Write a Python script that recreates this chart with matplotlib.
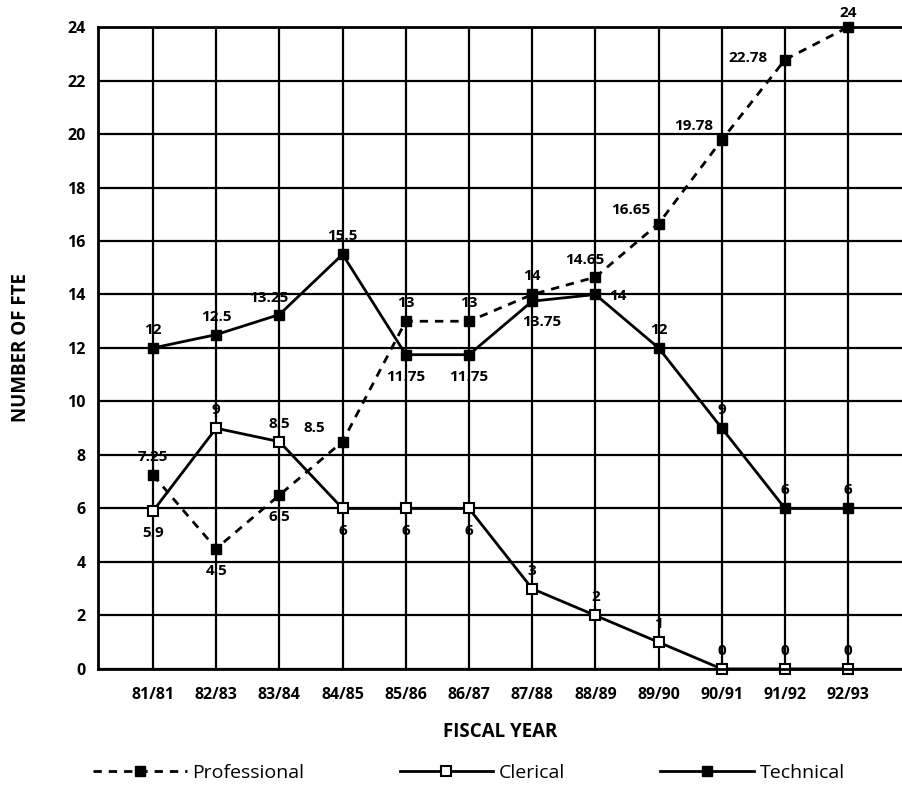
import matplotlib
matplotlib.use("Agg")
import matplotlib.pyplot as plt

years = ["81/81", "82/83", "83/84", "84/85", "85/86", "86/87",
         "87/88", "88/89", "89/90", "90/91", "91/92", "92/93"]
professional = [7.25, 4.5, 6.5, 8.5, 13, 13, 14, 14.65, 16.65, 19.78, 22.78, 24]
clerical = [5.9, 9, 8.5, 6, 6, 6, 3, 2, 1, 0, 0, 0]
technical = [12, 12.5, 13.25, 15.5, 11.75, 11.75, 13.75, 14, 12, 9, 6, 6]

prof_labels = ["7.25", "4.5", "6.5", "8.5", "13", "13", "14", "14.65", "16.65", "19.78", "22.78", "24"]
cler_labels = ["5.9", "9", "8.5", "6", "6", "6", "3", "2", "1", "0", "0", "0"]
tech_labels = ["12", "12.5", "13.25", "15.5", "11.75", "11.75", "13.75", "14", "12", "9", "6", "6"]

yticks = [0, 2, 4, 6, 8, 10, 12, 14, 16, 18, 20, 22, 24]

# label placement (style only)
prof_place = ["up", "down", "down", "upleft", "up", "up", "up", "upleft2", "upleft", "upleft", "left", "uptop"]
cler_place = ["down", "up", "up", "down", "down", "down", "up", "up", "up", "up", "up", "up"]
tech_place = ["up", "up", "upleft2", "up", "down", "down", "downright", "right", "up", "up", "up", "up"]

offsets = {
    "up": (0, 13), "uptop": (0, 10), "down": (0, -16), "upleft": (-20, 10), "upleft2": (-8, 12),
    "left": (-27, 1), "right": (16, -1), "downright": (7, -15),
}

plt.rcParams['font.family'] = ['Open Sans', 'DejaVu Sans']

fig = plt.figure(figsize=(9.02, 7.9), dpi=100)
ax = fig.add_axes([0.1086, 0.1532, 0.8914, 0.8126])

x = list(range(len(years)))
ax.set_xlim(-0.87, 11.85)
ax.set_ylim(0, 24)

ax.set_yticks(yticks)
ax.set_xticks(x)
ax.set_xticklabels(years)
ax.grid(True, color="black", linewidth=1.6)
ax.set_axisbelow(True)
for s in ["left", "bottom", "top"]:
    ax.spines[s].set_linewidth(2)
ax.spines["right"].set_visible(False)
ax.tick_params(length=0)
ax.tick_params(axis="y", pad=9)
ax.tick_params(axis="x", pad=13)
for lab in ax.get_xticklabels() + ax.get_yticklabels():
    lab.set_fontweight("bold")
    lab.set_fontsize(11.5)

lp, = ax.plot(x, professional, color="black", lw=2, linestyle=(0, (3, 2.5)),
              marker="s", markersize=7, markerfacecolor="black", label="Professional", clip_on=False)
lc, = ax.plot(x, clerical, color="black", lw=2, marker="s", markersize=7,
              markerfacecolor="white", markeredgewidth=1.5, label="Clerical", clip_on=False)
lt, = ax.plot(x, technical, color="black", lw=2, marker="s", markersize=7,
              markerfacecolor="black", label="Technical", clip_on=False)

for vals, labs, places in [(professional, prof_labels, prof_place),
                           (clerical, cler_labels, cler_place),
                           (technical, tech_labels, tech_place)]:
    for xi, v, t, p in zip(x, vals, labs, places):
        dx, dy = offsets[p]
        ax.annotate(t, (xi, v), xytext=(dx, dy), textcoords="offset points",
                    ha="center", va="center", fontsize=11, fontweight="bold",
                    annotation_clip=False)

ax.set_ylabel("NUMBER OF FTE", fontsize=13.5, fontweight="bold", labelpad=26)
ax.set_xlabel("FISCAL YEAR", fontsize=13.5, fontweight="bold", labelpad=14)

fig.legend(handles=[lp, lc, lt], loc="center", bbox_to_anchor=(0.52, 0.022),
           ncol=3, frameon=False, fontsize=14, handlelength=4.8, handletextpad=0.3,
           columnspacing=4.9)

fig.savefig("out.png", dpi=100)
